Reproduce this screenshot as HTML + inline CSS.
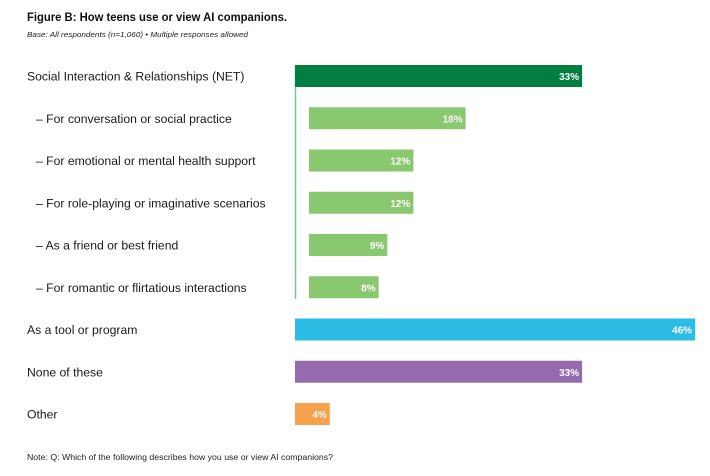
<!DOCTYPE html>
<html><head><meta charset="utf-8"><style>
body{margin:0;background:#fff;width:710px;height:471px;overflow:hidden;font-family:"Liberation Sans",sans-serif}
</style></head><body>
<svg id="chart" width="710" height="471" viewBox="0 0 710 471" xmlns="http://www.w3.org/2000/svg">
<text x="27" y="21" font-size="11.5" font-weight="bold" fill="#111" textLength="260" lengthAdjust="spacingAndGlyphs">Figure B: How teens use or view AI companions.</text>
<text x="27" y="37" font-size="7.5" font-style="italic" fill="#222" textLength="221" lengthAdjust="spacingAndGlyphs">Base: All respondents (n=1,060) • Multiple responses allowed</text>
<line x1="295.5" y1="65" x2="295.5" y2="299" stroke="#7cc3a0" stroke-width="1.5"/>
<g id="bars"></g>
<text x="27" y="460" font-size="8" fill="#222" textLength="306" lengthAdjust="spacingAndGlyphs">Note: Q: Which of the following describes how you use or view AI companions?</text>
</svg>
<script>
const categories=["Social Interaction & Relationships (NET)","– For conversation or social practice","– For emotional or mental health support","– For role-playing or imaginative scenarios","– As a friend or best friend","– For romantic or flirtatious interactions","As a tool or program","None of these","Other"];
const values=[33,18,12,12,9,8,46,33,4];
const valueLabels=["33%","18%","12%","12%","9%","8%","46%","33%","4%"];
const isSub=[false,true,true,true,true,true,false,false,false];
const colors=["#007f40","#89c86f","#89c86f","#89c86f","#89c86f","#89c86f","#2dbde4","#966bad","#f8a14b"];
const ns="http://www.w3.org/2000/svg";
const g=document.getElementById("bars");
const scale=8.7;
function xPos(v,sub){return (sub?309:295)+v*scale;}
function yPos(i){return 65+i*42.25;}
categories.forEach((c,i)=>{
  const sub=isSub[i];
  const x0=sub?309:295,y=yPos(i),h=22;
  const t=document.createElementNS(ns,"text");
  
  
  t.setAttribute("x",sub?36:27);t.setAttribute("y",y+15.5);
  t.setAttribute("font-size","12.2");t.setAttribute("fill","#1a1a1a");
  t.textContent=c;g.appendChild(t);
  const r=document.createElementNS(ns,"rect");
  
  
  r.setAttribute("x",x0);r.setAttribute("y",y);
  r.setAttribute("width",xPos(values[i],sub)-x0);r.setAttribute("height",h);
  r.setAttribute("fill",colors[i]);g.appendChild(r);
  const v=document.createElementNS(ns,"text");
  
  
  v.setAttribute("x",xPos(values[i],sub)-3);v.setAttribute("y",y+15);
  v.setAttribute("text-anchor","end");v.setAttribute("font-size","10");
  v.setAttribute("font-weight","bold");v.setAttribute("fill","#fff");
  v.textContent=valueLabels[i];g.appendChild(v);
});
</script>
</body></html>
